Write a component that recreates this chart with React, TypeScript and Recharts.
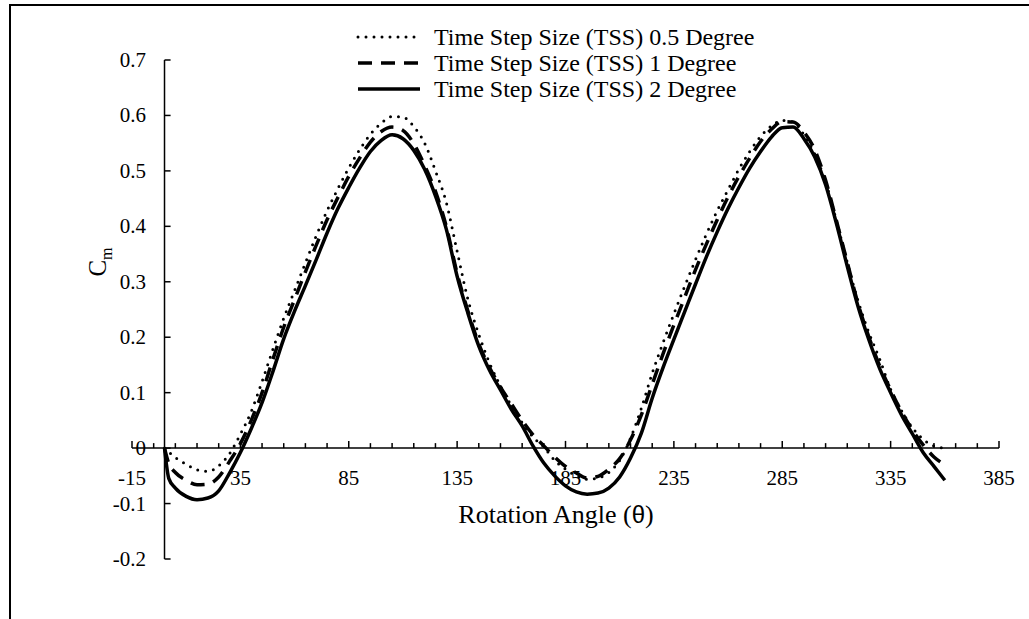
import React from "react";
import {
  LineChart,
  Line,
  XAxis,
  YAxis,
  ReferenceLine,
  ReferenceDot,
  Legend,
} from "recharts";

const SERIF = '"Liberation Serif", "Times New Roman", serif';

// rotation angle (deg)
const angles = [
  0, 2, 5, 10, 15, 20, 25, 30, 35, 40, 45, 50, 55, 60, 65, 70, 75, 80, 85, 90,
  95, 100, 105, 110, 115, 120, 125, 130, 135, 140, 145, 150, 155, 160, 165, 170,
  175, 180, 185, 190, 195, 200, 205, 210, 215, 220, 225, 230, 235, 240, 245, 250,
  255, 260, 265, 270, 275, 280, 285, 290, 295, 300, 305, 310, 315, 320, 325, 330,
  335, 340, 345, 350, 355, 360,
];

// Cm for TSS 0.5 degree (dotted)
const tss05 = [
  0, -0.007, -0.017, -0.029, -0.039, -0.042, -0.032, -0.01, 0.025, 0.066, 0.12,
  0.178, 0.234, 0.284, 0.334, 0.383, 0.428, 0.468, 0.505, 0.538, 0.566, 0.586,
  0.598, 0.597, 0.58, 0.55, 0.5, 0.443, 0.355, 0.268, 0.205, 0.153, 0.112, 0.077,
  0.046, 0.02, 0.002, -0.022, -0.038, -0.05, -0.056, -0.054, -0.044, -0.022,
  0.018, 0.072, 0.135, 0.19, 0.242, 0.292, 0.34, 0.386, 0.428, 0.466, 0.503,
  0.535, 0.562, 0.581, 0.591, 0.588, 0.565, 0.53, 0.48, 0.41, 0.335, 0.265,
  0.208, 0.16, 0.106, 0.068, 0.037, 0.016, 0.004, 0,
];

// Cm for TSS 1 degree (dashed)
const tss1 = [
  0, -0.028, -0.044, -0.058, -0.066, -0.065, -0.052, -0.024, 0.008, 0.05, 0.1,
  0.16, 0.218, 0.268, 0.318, 0.366, 0.412, 0.452, 0.49, 0.523, 0.552, 0.571,
  0.579, 0.573, 0.549, 0.51, 0.463, 0.4, 0.315, 0.247, 0.188, 0.145, 0.11, 0.08,
  0.05, 0.024, 0.004, -0.016, -0.033, -0.045, -0.054, -0.051, -0.038, -0.019,
  0.015, 0.06, 0.115, 0.17, 0.222, 0.272, 0.322, 0.368, 0.412, 0.453, 0.49,
  0.523, 0.553, 0.575, 0.589, 0.588, 0.57, 0.538, 0.483, 0.41, 0.335, 0.26, 0.2,
  0.148, 0.105, 0.066, 0.033, 0.006, -0.016, -0.03,
];

// Cm for TSS 2 degree (solid)
const tss2 = [
  0, -0.055, -0.072, -0.087, -0.093, -0.09, -0.077, -0.045, -0.008, 0.035, 0.082,
  0.138, 0.197, 0.247, 0.293, 0.34, 0.388, 0.432, 0.47, 0.505, 0.535, 0.555,
  0.565, 0.558, 0.537, 0.503, 0.455, 0.395, 0.31, 0.243, 0.184, 0.14, 0.105,
  0.07, 0.04, 0.004, -0.027, -0.05, -0.068, -0.079, -0.083, -0.081, -0.072,
  -0.052, -0.018, 0.027, 0.09, 0.145, 0.196, 0.246, 0.296, 0.345, 0.39, 0.432,
  0.47, 0.505, 0.535, 0.561, 0.578, 0.579, 0.558, 0.525, 0.475, 0.405, 0.328,
  0.255, 0.195, 0.143, 0.1, 0.06, 0.026, -0.008, -0.033, -0.058,
];

const xLabels = [-15, 35, 85, 135, 185, 235, 285, 335, 385];
const xMinor = Array.from({ length: 41 }, (_, i) => -15 + i * 10);
const yTicks = [-0.2, -0.1, 0, 0.1, 0.2, 0.3, 0.4, 0.5, 0.6, 0.7];

const data = angles.map((a, i) => ({
  angle: a,
  tss05: tss05[i],
  tss1: tss1[i],
  tss2: tss2[i],
}));

const lineStyles: Record<string, { width: number; dash?: string; cap?: any }> = {
  tss05: { width: 3, dash: "0 8", cap: "round" },
  tss1: { width: 3.5, dash: "14 9" },
  tss2: { width: 3.5 },
};

function LegendBox({ payload }: any) {
  return (
    <div style={{ fontFamily: SERIF, fontSize: 24, color: "#000" }}>
      {(payload || []).map((e: any) => {
        const s = lineStyles[e.dataKey];
        return (
          <div key={e.dataKey} style={{ display: "flex", alignItems: "center", height: 26 }}>
            <svg width={66} height={10}>
              <line
                x1={2}
                y1={5}
                x2={64}
                y2={5}
                stroke="#000"
                strokeWidth={s.width}
                strokeDasharray={s.dash}
                strokeLinecap={s.cap}
              />
            </svg>
            <span style={{ marginLeft: 12, whiteSpace: "nowrap" }}>{e.value}</span>
          </div>
        );
      })}
    </div>
  );
}

const YTick = ({ x, y, payload }: any) => (
  <text x={x + 14} y={y} dy={7} textAnchor="end" fontFamily={SERIF} fontSize={21} fill="#000">
    {payload.value}
  </text>
);

export default function App() {
  return (
    <div
      style={{
        position: "absolute",
        left: 0,
        top: 0,
        width: 1029,
        height: 619,
        overflow: "hidden",
        background: "#fff",
      }}
    >
      <div
        style={{
          position: "absolute",
          left: 9,
          top: 4,
          width: 1200,
          height: 800,
          border: "2px solid #000",
        }}
      />
      <div style={{ position: "absolute", left: 0, top: 0 }}>
        <LineChart
          width={1029}
          height={619}
          data={data}
          margin={{ top: 60, right: 30, bottom: 60, left: 72 }}
        >
          <XAxis type="number" dataKey="angle" domain={[-15, 385]} hide />
          <YAxis
            type="number"
            domain={[-0.2, 0.7]}
            ticks={yTicks}
            interval={0}
            width={60}
            axisLine={false}
            tickLine={false}
            tickSize={0}
            tickMargin={0}
            tick={<YTick />}
          />
          <Legend
            layout="vertical"
            align="center"
            verticalAlign="middle"
            content={<LegendBox />}
            wrapperStyle={{ left: 356, top: 24, width: "auto" }}
          />

          {/* axes crossing at (0, 0) */}
          <ReferenceLine y={0} stroke="#000" strokeWidth={1.5} />
          <ReferenceLine x={0} stroke="#000" strokeWidth={1.5} />
          {xMinor.map((v) => (
            <ReferenceLine
              key={"xt" + v}
              segment={[
                { x: v, y: 0 },
                { x: v, y: (v + 15) % 50 === 0 ? 0.013 : 0.009 },
              ]}
              stroke="#000"
              strokeWidth={1.5}
              ifOverflow="visible"
            />
          ))}
          {xLabels.map((v) => (
            <ReferenceDot
              key={"xl" + v}
              x={v}
              y={0}
              r={0}
              fill="none"
              stroke="none"
              ifOverflow="visible"
              label={{
                value: String(v),
                position: "bottom",
                offset: 22,
                fill: "#000",
                fontSize: 21,
                fontFamily: SERIF,
              }}
            />
          ))}
          {yTicks.map((v) => (
            <ReferenceLine
              key={"yt" + v}
              segment={[
                { x: 0, y: v },
                { x: 2.8, y: v },
              ]}
              stroke="#000"
              strokeWidth={1.5}
              ifOverflow="visible"
            />
          ))}

          <Line
            type="monotone"
            dataKey="tss05"
            name="Time Step Size (TSS) 0.5 Degree"
            stroke="#000"
            strokeWidth={3}
            strokeDasharray="0 8"
            strokeLinecap="round"
            dot={false}
            activeDot={false}
            isAnimationActive={false}
          />
          <Line
            type="monotone"
            dataKey="tss1"
            name="Time Step Size (TSS) 1 Degree"
            stroke="#000"
            strokeWidth={3.5}
            strokeDasharray="14 9"
            dot={false}
            activeDot={false}
            isAnimationActive={false}
          />
          <Line
            type="monotone"
            dataKey="tss2"
            name="Time Step Size (TSS) 2 Degree"
            stroke="#000"
            strokeWidth={3.5}
            dot={false}
            activeDot={false}
            isAnimationActive={false}
          />
        </LineChart>
      </div>

      <div
        style={{
          position: "absolute",
          left: 556,
          top: 515,
          transform: "translate(-50%, -50%)",
          fontFamily: SERIF,
          fontSize: 26,
          whiteSpace: "nowrap",
          color: "#000",
        }}
      >
        Rotation Angle (<span style={{ fontFamily: '"Liberation Sans", Arial, sans-serif', fontSize: 24 }}>θ</span>)
      </div>
      <div
        style={{
          position: "absolute",
          left: 100,
          top: 262,
          transform: "translate(-50%, -50%) rotate(-90deg)",
          fontFamily: SERIF,
          fontSize: 25,
          whiteSpace: "nowrap",
          color: "#000",
        }}
      >
        C<sub style={{ fontSize: 16 }}>m</sub>
      </div>
    </div>
  );
}
